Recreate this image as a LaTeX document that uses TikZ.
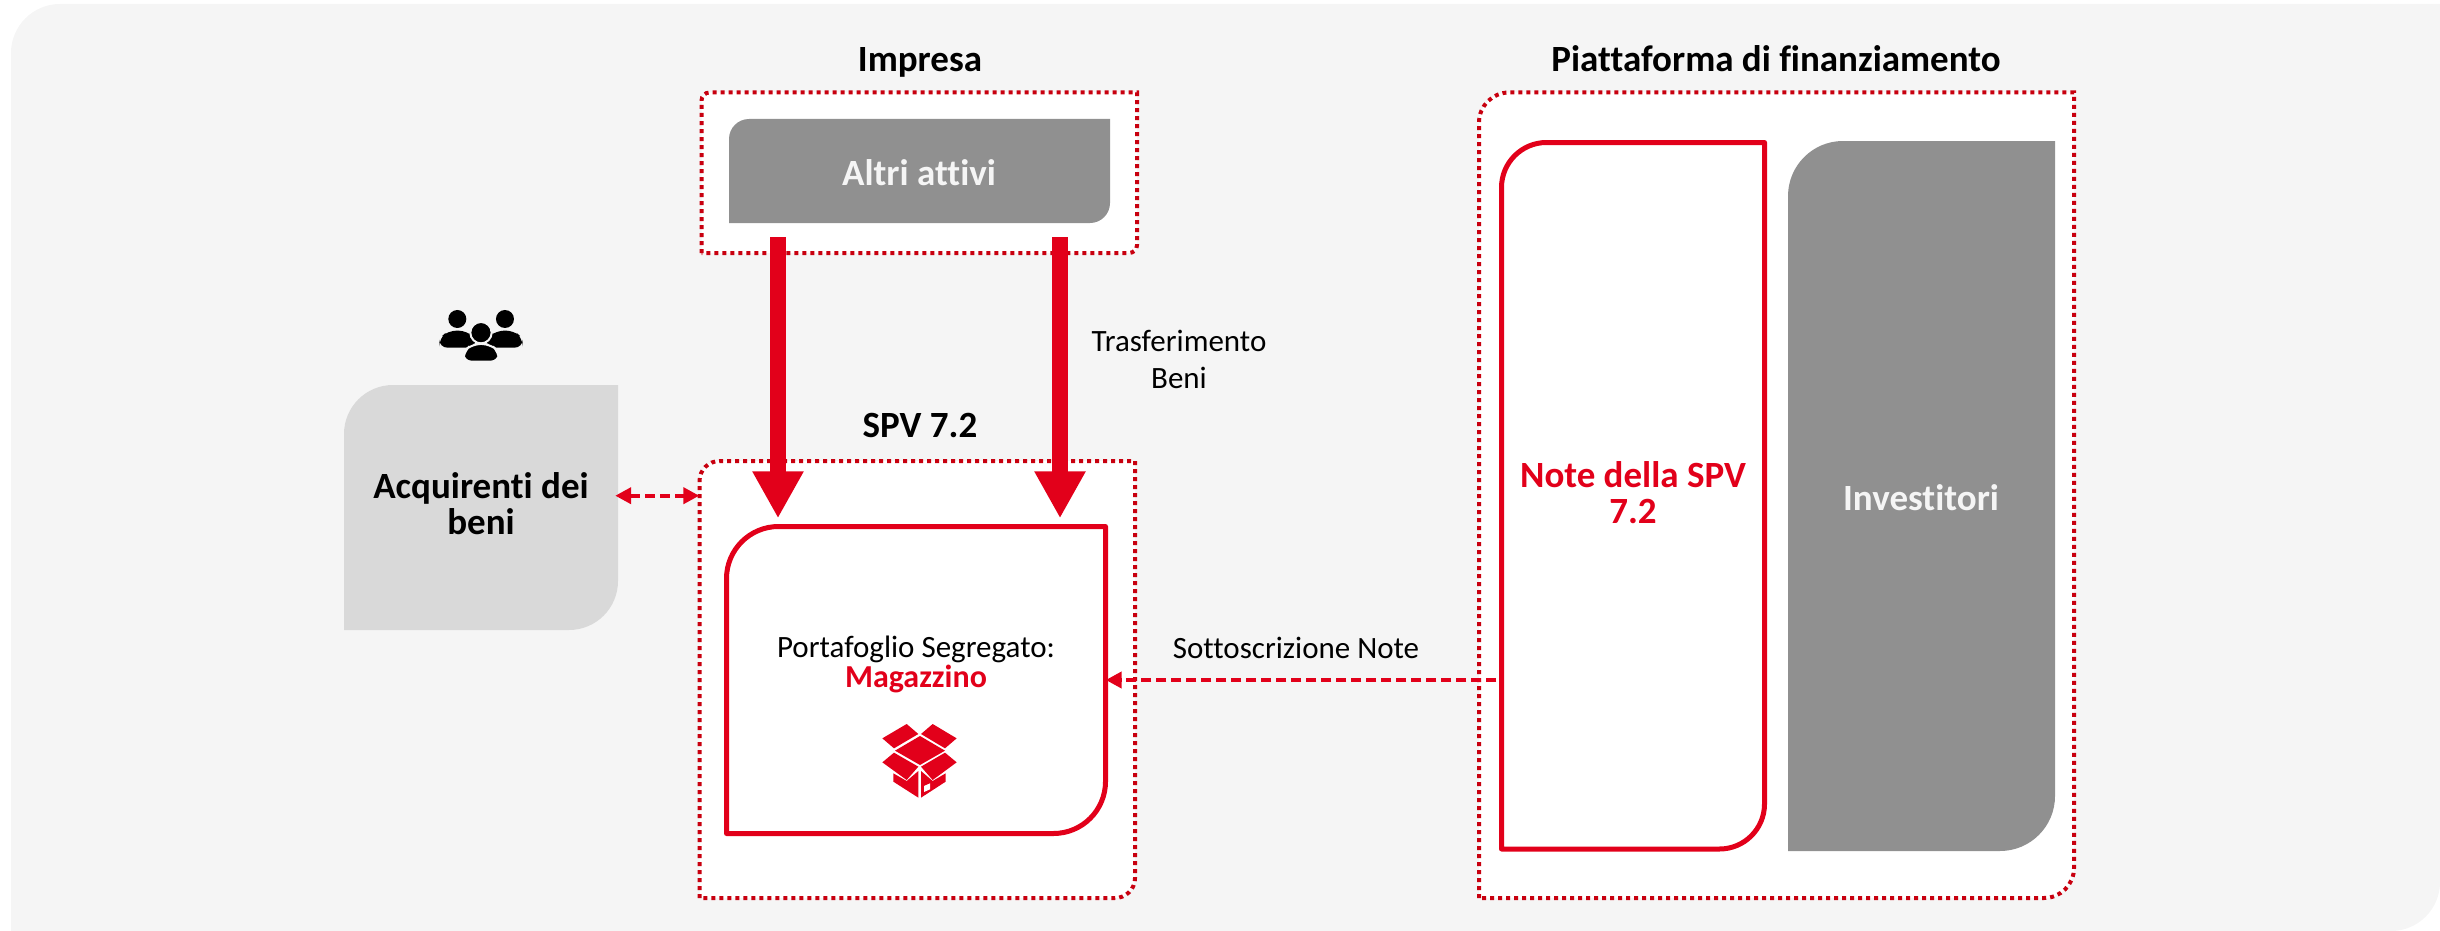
\documentclass[tikz,border=0pt]{standalone}
\usepackage{fontspec}
\setmainfont[Ligatures=NoCommon]{Carlito}
\usepackage{tikz}
\usetikzlibrary{arrows.meta,fit}

\definecolor{sfondo}{HTML}{F5F5F5}
\definecolor{rosso}{HTML}{E2001A}
\definecolor{rossoscuro}{HTML}{C8000F}
\definecolor{grigio}{HTML}{909090}
\definecolor{grigiochiaro}{HTML}{D9D9D9}

\tikzset{
  x=1pt, y=-1pt,
  gruppo/.style={draw=rossoscuro, fill=white, line width=4pt, dash pattern=on 4pt off 4pt},
  bordato/.style={draw=rosso, fill=white, line width=5pt, line join=round},
  titolo/.style={inner sep=0pt, align=center, font=\fontsize{37}{36}\selectfont\bfseries},
  testo/.style={inner sep=0pt, align=center, font=\fontsize{31}{37}\selectfont},
  frecciona/.style={draw=rosso, line width=16pt, -{Triangle[length=47pt,width=48pt]}},
  freccina/.style={draw=rosso, line width=4pt, dash pattern=on 10pt off 5pt, -{Triangle[length=16pt,width=16pt]}},
}

% box with two round corners (top left, bottom right); name, style, radius, nw, se
\newcommand{\foglia}[5]{
  \coordinate (nw) at (#4);
  \coordinate (se) at (#5);
  \path[#2] (nw |- se) [rounded corners=#3] -- (nw) [sharp corners] -- (se |- nw) [rounded corners=#3] -- (se) [sharp corners] -- (nw |- se) -- cycle;
  \node[inner sep=0pt, fit=(nw)(se)] (#1) {};
}

\begin{document}
\begin{tikzpicture}
  \useasboundingbox (0,0) rectangle (2440,931);

  \foglia{sfondo}{fill=sfondo}{49}{11,4}{2440,931}

  % dotted groups
  \foglia{impresa}{gruppo}{8}{701.5,92.5}{1137,253}
  \foglia{spv}{gruppo}{20}{699.5,461}{1135,898}
  \foglia{piattaforma}{gruppo}{30}{1479,92.5}{2074,898}

  % inner boxes
  \foglia{altri}{fill=grigio}{20}{729,119}{1110,223}
  \foglia{acquirenti}{fill=grigiochiaro}{49}{344,385}{618,630}
  \foglia{magazzino}{bordato}{52}{726.5,526.5}{1105.5,833.5}
  \foglia{note}{bordato}{45}{1501.5,142.5}{1764.5,849}
  \foglia{investitori}{fill=grigio}{55}{1788,141}{2055,851}

  % links
  \coordinate (linkSx) at (778,300);
  \coordinate (linkDx) at (1060,300);
  \coordinate (linkAcq) at (650,495.7);
  \coordinate (linkNote) at (1300,680);
  \path
    (linkSx |- altri.south) edge[frecciona, shorten <=14pt, shorten >=8pt] (linkSx |- magazzino.north)
    (linkDx |- altri.south) edge[frecciona, shorten <=14pt, shorten >=8pt] (linkDx |- magazzino.north)
    (linkAcq -| acquirenti.east) edge[freccina, shorten <=-3pt, {Triangle[length=16pt,width=16pt]}-{Triangle[length=16pt,width=16pt]}] (linkAcq -| spv.west)
    (linkNote -| note.west) edge[freccina, shorten <=5pt] (linkNote -| magazzino.east);

  % texts
  \node[titolo, anchor=base] (tImpresa) at (920,72) {Impresa};
  \node[titolo, anchor=base] (tPiattaforma) at (1776,72) {Piattaforma di finanziamento};
  \node[titolo, anchor=base] (tSpv) at (920,437) {SPV 7.2};
  \node[titolo, anchor=base, text=sfondo] (tAltri) at (919,185) {Altri attivi};
  \node[titolo, anchor=base, text=sfondo] (tInvestitori) at (1921,510) {Investitori};
  \node[titolo, anchor=base] (tAcquirenti) at (481,534) {Acquirenti dei\\beni};
  \node[titolo, anchor=base, text=rosso] (tNote) at (1633,523) {Note della SPV\\7.2};
  \node[testo, anchor=base] (tTrasferimento) at (1179,388) {Trasferimento\\Beni};
  \node[testo, anchor=base] (tSottoscrizione) at (1296,658) {Sottoscrizione Note};
  \node[testo, anchor=base] (tPortafoglio) at (916,657) {Portafoglio Segregato:};
  \node[testo, anchor=base, text=rosso, font=\fontsize{32}{32}\selectfont\bfseries] (tMagazzino) at (916,687) {Magazzino};

  % people
  \begin{scope}[shift={(320,290)}, x=0.3333pt, y=-0.3333pt]
    \fill (412,87) circle (27pt/3);
    \fill (555,87) circle (27pt/3);
    \fill[rounded corners=8pt] (358,173) -- (358,145) -- (385,122) -- (440,122) -- (465,145) -- (465,173) -- cycle;
    \fill[rounded corners=8pt] (501,173) -- (501,145) -- (528,122) -- (583,122) -- (608,145) -- (608,173) -- cycle;
    \fill[draw=sfondo, line width=2pt] (483,128) circle (32pt/3);
    \fill[draw=sfondo, line width=2pt, rounded corners=8pt] (430,215) -- (430,185) -- (457,162) -- (510,162) -- (537,185) -- (537,215) -- cycle;
    \fill (483,128) circle (27pt/3);
  \end{scope}

  % open box
  \begin{scope}[shift={(860,700)}, x=0.3333pt, y=-0.3333pt]
    \foreach \faccia in {
      {(105,152) -- (180,108) -- (255,152) -- (180,195)},
      {(67,115) -- (140,72) -- (175,102) -- (102,145)},
      {(183,102) -- (218,72) -- (290,115) -- (255,145)},
      {(67,187) -- (102,158) -- (175,200) -- (140,240)},
      {(183,200) -- (255,158) -- (290,187) -- (218,240)},
      {(100,220) -- (140,243) -- (175,213) -- (175,293) -- (100,245)},
      {(183,213) -- (218,243) -- (257,220) -- (257,245) -- (183,293)}
    } {
      \fill[rosso] \faccia -- cycle;
    }
    \fill[white] (192,258) -- (210,250) -- (210,268) -- (192,276) -- cycle;
  \end{scope}
\end{tikzpicture}
\end{document}
